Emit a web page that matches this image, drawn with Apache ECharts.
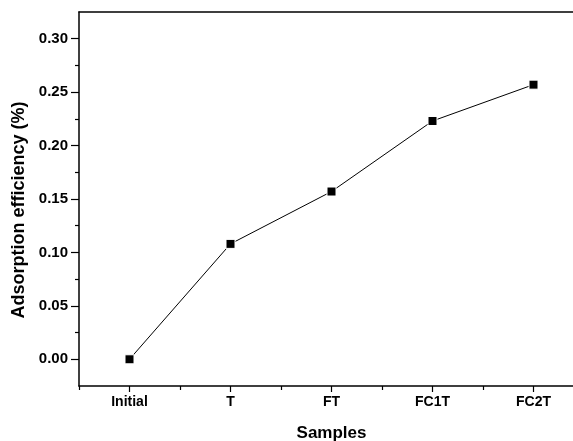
<!DOCTYPE html>
<html>
<head>
<meta charset="utf-8">
<script src="https://cdn.jsdelivr.net/npm/echarts@6/dist/echarts.min.js"></script>
<style>
  html, body { margin: 0; padding: 0; background: #fff; }
  #chart { width: 573px; height: 441px; }
</style>
</head>
<body>
<div id="chart"></div>
<script>
// Samples and their measured adsorption efficiency
const samples = ['Initial', 'T', 'FT', 'FC1T', 'FC2T'];
const efficiency = [0.000, 0.108, 0.157, 0.223, 0.257];

// Y axis ticks: labelled majors and unlabelled minors
const yMajorTicks = [0, 0.05, 0.10, 0.15, 0.20, 0.25, 0.30];
const yMinorTicks = [0.025, 0.075, 0.125, 0.175, 0.225, 0.275];
const yMin = -0.025;
const yMax = 0.325;

const font = 'Liberation Sans, Arial, Helvetica, sans-serif';
const axisLine = { show: true, onZero: false, lineStyle: { color: '#000', width: 1.5 } };

const chart = echarts.init(document.getElementById('chart'), null, { renderer: 'canvas' });

chart.setOption({
  backgroundColor: '#fff',
  animation: false,
  grid: {
    left: 79, top: 12, width: 505, height: 374,
    containLabel: false,
    outerBoundsMode: 'none',
    show: false
  },
  xAxis: [
    {
      type: 'category',
      data: samples,
      boundaryGap: true,
      position: 'bottom',
      name: 'Samples',
      nameLocation: 'middle',
      nameGap: 39,
      nameTextStyle: { fontFamily: font, fontWeight: 'bold', fontSize: 17, color: '#000' },
      axisLine: axisLine,
      axisTick: { show: true, alignWithLabel: true, length: 6, lineStyle: { color: '#000', width: 1.2 } },
      axisLabel: { fontFamily: font, fontWeight: 'bold', fontSize: 14, color: '#000', margin: 9 },
      splitLine: { show: false }
    },
    {
      // boundary ticks between samples
      type: 'category',
      data: samples,
      boundaryGap: true,
      position: 'bottom',
      axisLine: { show: false, onZero: false },
      axisTick: { show: true, alignWithLabel: false, length: 4, lineStyle: { color: '#000', width: 1.2 } },
      axisLabel: { show: false },
      splitLine: { show: false }
    },
    {
      // frame line across the top
      type: 'category',
      data: samples,
      position: 'top',
      axisLine: axisLine,
      axisTick: { show: false },
      axisLabel: { show: false },
      splitLine: { show: false }
    }
  ],
  yAxis: [
    {
      type: 'value',
      min: yMin,
      max: yMax,
      position: 'left',
      name: 'Adsorption efficiency (%)',
      nameLocation: 'middle',
      nameGap: 47,
      nameRotate: 90,
      nameTextStyle: { fontFamily: font, fontWeight: 'bold', fontSize: 18, color: '#000', padding: [0, 22, 0, 0] },
      axisLine: axisLine,
      axisTick: { show: true, length: 8, customValues: yMajorTicks, lineStyle: { color: '#000', width: 1.2 } },
      axisLabel: {
        fontFamily: font, fontWeight: 'bold', fontSize: 15, color: '#000', margin: 11,
        customValues: yMajorTicks,
        formatter: v => v.toFixed(2)
      },
      splitLine: { show: false }
    },
    {
      type: 'value',
      min: yMin,
      max: yMax,
      position: 'left',
      axisLine: { show: false, onZero: false },
      axisTick: { show: true, length: 4, customValues: yMinorTicks, lineStyle: { color: '#000', width: 1.2 } },
      axisLabel: { show: false, customValues: yMinorTicks },
      splitLine: { show: false }
    }
  ],
  series: [
    {
      type: 'line',
      data: efficiency,
      xAxisIndex: 0,
      yAxisIndex: 0,
      symbol: 'rect',
      symbolSize: 9,
      lineStyle: { color: '#000', width: 1 },
      itemStyle: { color: '#000', borderColor: '#fff', borderWidth: 1 }
    }
  ]
});
</script>
</body>
</html>
